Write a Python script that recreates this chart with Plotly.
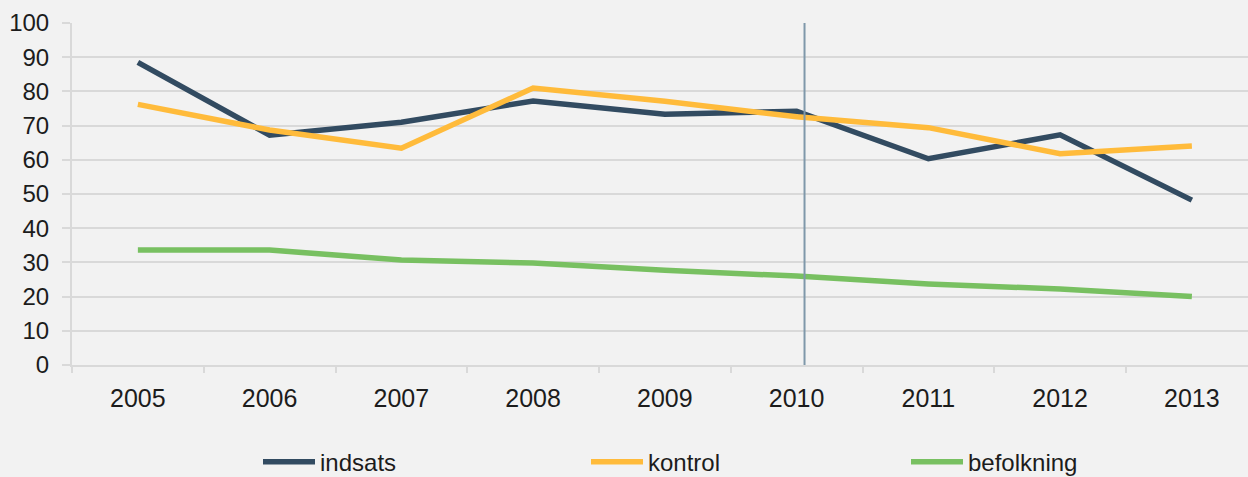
import plotly.graph_objects as go

years = ["2005", "2006", "2007", "2008", "2009", "2010", "2011", "2012", "2013"]
indsats = [88.5, 67.2, 71.0, 77.2, 73.3, 74.2, 60.3, 67.3, 48.2]
kontrol = [76.2, 68.7, 63.4, 81.0, 77.1, 72.6, 69.4, 61.8, 64.0]
befolkning = [33.6, 33.6, 30.7, 29.8, 27.7, 26.0, 23.7, 22.2, 20.0]
y_ticks = [0, 10, 20, 30, 40, 50, 60, 70, 80, 90, 100]
intervention_pos = 5.06  # category-index position of the vertical marker line

FONT = "Liberation Sans"
TXT = "#1c1c1c"
series = [("indsats", indsats, "#324b61", "legend", 258),
          ("kontrol", kontrol, "#ffbb3b", "legend2", 586),
          ("befolkning", befolkning, "#78c061", "legend3", 906)]

fig = go.Figure()
for name, vals, col, lg, _ in series:
    fig.add_trace(go.Scatter(x=years, y=vals, mode="lines", name=name, legend=lg,
                             line=dict(color=col, width=5.5)))

fig.add_shape(type="line", xref="x", yref="y", x0=intervention_pos, x1=intervention_pos,
              y0=0, y1=100, line=dict(color="#7f98aa", width=2))

legends = {}
for _, _, _, lg, px in series:
    legends[lg] = dict(orientation="h", xref="container", yref="container",
                       x=px / 1248, xanchor="left", y=0.031, yanchor="middle",
                       font=dict(family=FONT, size=24, color=TXT),
                       bgcolor="rgba(0,0,0,0)", itemwidth=52)

fig.update_layout(
    width=1248, height=477,
    paper_bgcolor="#f2f2f2", plot_bgcolor="#f2f2f2",
    margin=dict(l=72, r=0, t=23, b=112, autoexpand=False),
    font=dict(family=FONT, size=25, color=TXT),
    showlegend=True,
    **legends,
)
fig.update_xaxes(type="category", range=[-0.5, 8.426], showgrid=False,
                 showline=True, linecolor="#d9d9d9", linewidth=2,
                 ticks="outside", tickson="boundaries", ticklen=6, tickcolor="#d9d9d9",
                 tickwidth=2, tickfont=dict(size=25), ticklabelstandoff=10)
fig.update_yaxes(range=[0, 100], tickvals=y_ticks, showgrid=True, gridcolor="#d9d9d9",
                 gridwidth=2, showline=True, linecolor="#d9d9d9", linewidth=2,
                 ticks="outside", ticklen=8, tickcolor="#d9d9d9", tickwidth=2,
                 zeroline=False, tickfont=dict(size=24), ticklabelstandoff=8)

fig.write_html("out.html", config={"displayModeBar": False},
               post_script="document.body.style.margin='0';")
